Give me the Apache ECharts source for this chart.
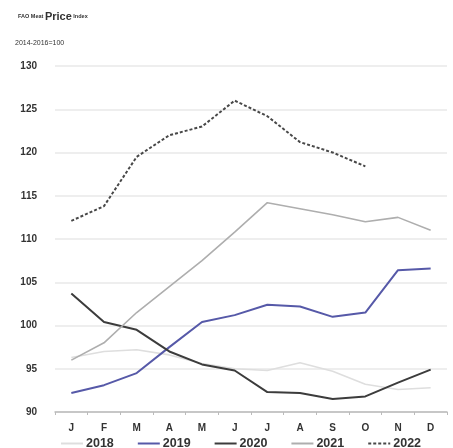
<!DOCTYPE html>
<html><head><meta charset="utf-8">
<script src="https://cdn.jsdelivr.net/npm/echarts@6/dist/echarts.min.js"></script>
<style>html,body{margin:0;padding:0;background:#fff}#c{width:453px;height:448px}</style>
</head><body><div id="c"></div>
<script>
const months = ['J','F','M','A','M','J','J','A','S','O','N','D'];
const yTicks = [90,95,100,105,110,115,120,125,130];
const s2018 = [96.3,97.0,97.2,96.6,95.6,95.0,94.8,95.7,94.7,93.2,92.6,92.8];
const s2019 = [92.2,93.1,94.5,97.5,100.4,101.2,102.4,102.2,101.0,101.5,106.4,106.6];
const s2020 = [103.7,100.4,99.5,97.0,95.5,94.8,92.3,92.2,91.5,91.8,93.4,94.9];
const s2021 = [96.0,98.0,101.5,104.5,107.5,110.8,114.2,113.5,112.8,112.0,112.5,111.0];
const s2022 = [112.1,113.8,119.5,122.0,123.0,126.0,124.2,121.2,120.0,118.4];

const chart = echarts.init(document.getElementById('c'));
function line(name, data, color, width, type){
  return {name, type:'line', data, symbol:'none', smooth:false,
    lineStyle:{color, width, type: type||'solid'}, itemStyle:{color}};
}
chart.setOption({
  animation:false,
  title:[
    {left:13, top:6, text:'{a|FAO Meat }{b|Price}{a| Index}',
     textStyle:{rich:{a:{fontSize:5.5,fontWeight:'bold',color:'#333',fontFamily:'Liberation Sans'},
                      b:{fontSize:11,fontWeight:'bold',color:'#333',fontFamily:'Liberation Sans'}}}},
    {left:10, top:35, text:'2014-2016=100',
     textStyle:{fontSize:7,color:'#333',fontWeight:'normal',fontFamily:'Liberation Sans'}}
  ],
  grid:{left:55, right:6, top:66, bottom:36, containLabel:false},
  legend:{top:432, left:55, itemGap:23, itemWidth:22, itemHeight:12,
    itemStyle:{opacity:0},
    textStyle:{fontSize:12.5,color:'#333',fontWeight:'bold',fontFamily:'Liberation Sans',padding:[0,0,0,-2]},
    data:['2018','2019','2020','2021','2022']},
  xAxis:{type:'category', data:months, boundaryGap:true,
    axisLine:{lineStyle:{color:'#bbb', width:1.5}},
    axisTick:{show:true, lineStyle:{color:'#bbb'}, length:3},
    axisLabel:{color:'#333', fontSize:10, fontWeight:'bold', margin:11, fontFamily:'Liberation Sans'}},
  yAxis:{type:'value', min:90, max:130, interval:5,
    axisLine:{show:false}, axisTick:{show:false},
    splitLine:{lineStyle:{color:'#eeeeee', width:2}},
    axisLabel:{color:'#333', fontSize:10, fontWeight:'bold', margin:18, fontFamily:'Liberation Sans'}},
  series:[
    line('2018', s2018, '#dedede', 1.6),
    line('2019', s2019, '#5659a8', 2),
    line('2020', s2020, '#3c3c3c', 2),
    line('2021', s2021, '#aeaeae', 1.6),
    line('2022', s2022, '#484848', 2, [3,2])
  ]
});
</script></body></html>
